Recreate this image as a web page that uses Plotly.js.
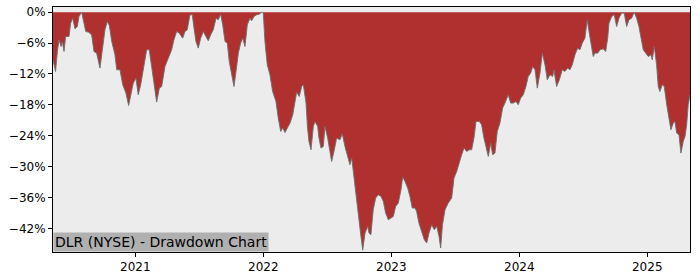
<!DOCTYPE html>
<html>
<head>
<meta charset="utf-8">
<script src="https://cdn.plot.ly/plotly-3.0.1.min.js"></script>
<style>html,body{margin:0;padding:0;background:#fff;}#chart{width:700px;height:280px;}</style>
</head>
<body>
<div id="chart"></div>
<script>
// Time as decimal years, drawdown in percent
const years = [
2020.357,2020.377,2020.391,2020.404,2020.420,2020.430,2020.443,2020.456,2020.482,2020.495,
2020.511,2020.529,2020.547,2020.560,2020.581,2020.594,2020.613,2020.633,2020.659,2020.677,
2020.698,2020.724,2020.745,2020.763,2020.781,2020.797,2020.816,2020.841,2020.855,2020.880,
2020.902,2020.927,2020.948,2020.966,2020.984,2021.005,2021.023,2021.042,2021.063,2021.089,
2021.109,2021.128,2021.146,2021.167,2021.188,2021.206,2021.232,2021.258,2021.284,2021.302,
2021.323,2021.344,2021.370,2021.388,2021.406,2021.427,2021.445,2021.459,2021.474,2021.492,
2021.511,2021.531,2021.552,2021.570,2021.589,2021.609,2021.631,2021.648,2021.667,2021.683,
2021.701,2021.719,2021.734,2021.753,2021.771,2021.787,2021.805,2021.823,2021.839,2021.857,
2021.875,2021.896,2021.909,2021.927,2021.948,2021.969,2021.988,2022.000,2022.013,2022.031,
2022.052,2022.073,2022.099,2022.117,2022.136,2022.152,2022.170,2022.188,2022.209,2022.230,
2022.248,2022.261,2022.281,2022.300,2022.313,2022.334,2022.345,2022.357,2022.373,2022.391,
2022.404,2022.425,2022.435,2022.451,2022.469,2022.482,2022.503,2022.521,2022.534,2022.555,
2022.573,2022.599,2022.617,2022.638,2022.659,2022.677,2022.691,2022.711,2022.730,2022.748,
2022.763,2022.777,2022.795,2022.816,2022.826,2022.841,2022.859,2022.878,2022.898,2022.920,
2022.938,2022.956,2022.977,2022.998,2023.016,2023.034,2023.055,2023.076,2023.089,2023.107,
2023.128,2023.146,2023.164,2023.185,2023.198,2023.216,2023.238,2023.258,2023.277,2023.295,
2023.316,2023.336,2023.355,2023.373,2023.386,2023.400,2023.420,2023.445,2023.472,2023.490,
2023.511,2023.531,2023.550,2023.568,2023.589,2023.609,2023.628,2023.646,2023.662,2023.688,
2023.706,2023.724,2023.745,2023.758,2023.777,2023.792,2023.810,2023.828,2023.849,2023.870,
2023.888,2023.914,2023.933,2023.953,2023.974,2023.992,2024.011,2024.031,2024.052,2024.070,
2024.089,2024.105,2024.123,2024.141,2024.162,2024.180,2024.201,2024.219,2024.240,2024.261,
2024.271,2024.292,2024.313,2024.336,2024.357,2024.378,2024.396,2024.414,2024.435,2024.456,
2024.474,2024.492,2024.513,2024.531,2024.547,2024.566,2024.578,2024.591,2024.613,2024.631,
2024.656,2024.675,2024.691,2024.701,2024.722,2024.742,2024.761,2024.779,2024.800,2024.820,
2024.839,2024.857,2024.878,2024.898,2024.917,2024.935,2024.951,2024.969,2024.988,2025.008,
2025.029,2025.039,2025.055,2025.073,2025.086,2025.099,2025.117,2025.133,2025.152,2025.170,
2025.185,2025.203,2025.216,2025.230,2025.248,2025.263,2025.281,2025.295,2025.308,2025.320,
2025.334
];
const drawdown = [
-9.26,-11.53,-7.65,-5.38,-6.68,-5.71,-7.65,-4.74,-4.74,-2.14,
-1.17,-3.24,-2.80,-0.85,0,-1.50,-3.77,-3.88,-4.41,-7.65,
-7.96,-10.87,-6.99,-3.44,-1.83,-2.60,-5.71,-8.29,-11.20,-11.20,
-14.12,-15.73,-18.14,-15.73,-13.79,-12.82,-16.06,-14.12,-10.87,-7.32,
-7.32,-10.87,-14.12,-17.48,-14.76,-14.45,-10.56,-8.93,-7.32,-5.38,
-3.77,-4.08,-5.05,-3.77,-3.44,-0.52,-0.52,-3.11,-5.71,-6.99,
-5.05,-3.77,-4.74,-5.57,-4.41,-3.44,-1.17,-1.50,-0.39,-2.47,
-5.71,-6.02,-9.59,-12.17,-14.45,-11.53,-7.96,-6.02,-5.05,-6.68,
-2.47,-1.17,-1.69,-0.85,-0.52,-0.39,0,-0.19,-5.71,-10.23,
-12.17,-15.42,-17.36,-20.58,-23.18,-22.52,-23.38,-22.52,-21.55,-19.94,
-17.03,-15.53,-16.39,-14.45,-14.12,-17.67,-22.27,-25.13,-26.74,-22.21,
-21.24,-22.21,-24.47,-26.41,-26.10,-22.21,-24.47,-26.74,-29.01,-26.74,
-24.47,-24.80,-23.63,-26.10,-28.04,-29.65,-28.35,-32.89,-37.09,-41.30,
-43.57,-46.25,-42.91,-41.63,-42.91,-43.24,-38.39,-36.12,-35.48,-35.81,
-36.78,-39.03,-40.33,-40.00,-39.69,-37.75,-37.09,-34.50,-32.04,-32.89,
-34.17,-35.81,-38.06,-38.06,-38.72,-40.97,-42.91,-44.21,-44.85,-42.91,
-41.30,-42.27,-41.63,-43.57,-45.83,-41.30,-38.39,-37.09,-36.12,-32.23,
-30.95,-29.01,-27.71,-26.41,-27.07,-26.74,-26.74,-24.47,-21.24,-21.24,
-21.88,-24.47,-27.07,-28.04,-25.44,-27.71,-27.38,-23.18,-21.55,-18.64,
-17.67,-16.06,-17.67,-17.67,-17.36,-18.00,-16.70,-16.06,-14.45,-12.50,
-11.84,-10.56,-11.20,-14.76,-11.84,-7.96,-10.23,-13.15,-12.17,-12.50,
-11.20,-14.45,-13.15,-11.20,-11.53,-10.87,-11.20,-10.23,-8.29,-6.99,
-7.32,-6.02,-5.05,-1.50,-4.08,-6.99,-8.62,-7.96,-7.96,-7.32,
-7.13,-7.65,-5.05,-2.14,-0.85,-0.52,-2.80,-1.17,-0.19,-0.19,
-2.80,-1.50,-1.17,0,-1.17,-2.80,-4.74,-7.32,-7.96,-8.62,
-8.29,-9.26,-6.68,-10.23,-14.45,-15.42,-14.12,-14.45,-18.00,-20.27,
-22.85,-21.55,-21.24,-23.50,-23.83,-27.38,-25.13,-24.16,-21.88,-18.00,
-16.06
];
const xTickVals = [2021, 2022, 2023, 2024, 2025];
const xTickText = ['2021', '2022', '2023', '2024', '2025'];
const yTickVals = [0, -6, -12, -18, -24, -30, -36, -42];
const yTickText = ['0%', '\u22126%', '\u221212%', '\u221218%', '\u221224%', '\u221230%', '\u221236%', '\u221242%'];
const label = 'DLR (NYSE) - Drawdown Chart';

const trace = {
  x: years,
  y: drawdown,
  type: 'scatter',
  mode: 'lines',
  fill: 'tozeroy',
  fillcolor: '#b03030',
  line: {color: 'rgba(110,110,110,0.9)', width: 1},
  hoverinfo: 'skip'
};

const layout = {
  width: 700,
  height: 280,
  margin: {l: 53, r: 10, t: 7, b: 28, pad: 0},
  paper_bgcolor: '#ffffff',
  plot_bgcolor: '#ececec',
  showlegend: false,
  font: {family: 'DejaVu Sans', size: 12, color: '#000'},
  xaxis: {
    type: 'linear',
    range: [2020.357, 2025.334],
    tickvals: xTickVals,
    ticktext: xTickText,
    showgrid: false,
    zeroline: false,
    showline: true,
    mirror: true,
    linecolor: '#000',
    linewidth: 1,
    ticks: 'outside',
    ticklen: 4,
    tickcolor: '#000',
    tickfont: {family: 'DejaVu Sans', size: 12, color: '#000'}
  },
  yaxis: {
    range: [-46.6, 1.0],
    tickvals: yTickVals,
    ticktext: yTickText,
    showgrid: false,
    zeroline: false,
    showline: true,
    mirror: true,
    linecolor: '#000',
    linewidth: 1,
    ticks: 'outside',
    ticklen: 4,
    tickcolor: '#000',
    tickfont: {family: 'DejaVu Sans', size: 12, color: '#000'}
  },
  annotations: [{
    text: label,
    xref: 'paper', yref: 'paper',
    x: 0, y: 0,
    xanchor: 'left', yanchor: 'bottom',
    showarrow: false,
    bgcolor: '#b0b0b0',
    borderpad: 1,
    font: {family: 'DejaVu Sans', size: 14, color: '#000'}
  }]
};

Plotly.newPlot('chart', [trace], layout, {displayModeBar: false, staticPlot: true});
</script>
</body>
</html>
